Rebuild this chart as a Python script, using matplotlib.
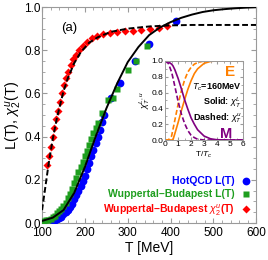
import numpy as np
import matplotlib
matplotlib.use("Agg")
import matplotlib.pyplot as plt

plt.rcParams['font.family'] = ['Liberation Sans', 'DejaVu Sans']
plt.rcParams['mathtext.fontset'] = 'custom'
plt.rcParams['mathtext.rm'] = 'Liberation Sans'
plt.rcParams['mathtext.it'] = 'Liberation Sans:italic'
plt.rcParams['mathtext.bf'] = 'Liberation Sans:bold'

# ---- main panel data ----
# black solid: fit to L(T)
fitL_T = [100, 125, 150, 175, 200, 225, 250, 275, 300, 325, 350, 375, 400,
          425, 450, 475, 500, 525, 550, 575, 600]
fitL = [0.01, 0.025, 0.06, 0.14, 0.26, 0.40, 0.53, 0.645, 0.745, 0.815, 0.87,
        0.905, 0.93, 0.95, 0.965, 0.977, 0.985, 0.99, 0.994, 0.997, 0.999]

# black dashed: fit to chi2
fitX_T = [100, 105, 110, 115, 120, 125, 130, 135, 140, 150, 160, 175, 190,
          210, 230, 260, 300, 350, 400, 450, 500, 600]
fitX = [0.06, 0.13, 0.20, 0.27, 0.33, 0.39, 0.44, 0.49, 0.53, 0.61, 0.67,
        0.74, 0.79, 0.835, 0.86, 0.885, 0.90, 0.91, 0.915, 0.917, 0.917, 0.917]

# HotQCD L(T)
hot_T = [125, 130, 135, 140, 145, 150, 155, 160, 165, 170, 175, 180, 185, 190,
         195, 200, 205, 210, 215, 220, 225, 230, 235, 240, 245, 260, 282, 317,
         350, 413]
hot_L = [0.01, 0.015, 0.02, 0.025, 0.03, 0.04, 0.05, 0.06, 0.075, 0.09, 0.11,
         0.13, 0.15, 0.17, 0.195, 0.22, 0.25, 0.28, 0.31, 0.34, 0.37, 0.40,
         0.43, 0.47, 0.50, 0.58, 0.65, 0.75, 0.83, 0.935]

# Wuppertal-Budapest L(T)
wbL_T = [105, 110, 115, 120, 125, 130, 135, 140, 145, 150, 155, 160, 165, 170,
         175, 180, 185, 190, 195, 200, 205, 210, 215, 220, 225, 230, 240, 254,
         266, 275, 301, 320, 345]
wbL = [0.01, 0.012, 0.015, 0.02, 0.03, 0.035, 0.045, 0.055, 0.065, 0.08, 0.095,
       0.115, 0.135, 0.16, 0.185, 0.21, 0.235, 0.26, 0.285, 0.31, 0.335, 0.36,
       0.39, 0.415, 0.44, 0.465, 0.51, 0.57, 0.58, 0.62, 0.71, 0.75, 0.82]

# Wuppertal-Budapest chi2^u(T)
wbX_T = [112, 117, 121, 125, 129, 133, 137, 141, 146, 151, 156, 161, 167, 173,
         180, 187, 195, 205, 216, 228, 242, 258, 275, 293, 312, 332, 352, 372,
         392]
wbX = [0.27, 0.31, 0.35, 0.40, 0.44, 0.48, 0.52, 0.56, 0.60, 0.64, 0.67, 0.70,
       0.73, 0.76, 0.78, 0.80, 0.82, 0.84, 0.855, 0.865, 0.875, 0.88, 0.885,
       0.89, 0.89, 0.895, 0.90, 0.905, 0.91]

# ---- inset data ----
ins_x = [0, 0.25, 0.5, 0.6, 0.75, 1.0, 1.25, 1.5, 1.75, 2.0, 2.25, 2.5, 3.0,
         3.5, 4.0, 5.0, 6.0]
E_solid = [0, 0, 0, 0, 0.08, 0.22, 0.37, 0.51, 0.64, 0.75, 0.84, 0.90, 0.97,
           0.995, 1, 1, 1]
E_dashed = [0, 0, 0.05, 0.13, 0.25, 0.45, 0.62, 0.76, 0.86, 0.92, 0.96, 0.98,
            1, 1, 1, 1, 1]
M_solid = [1, 0.99, 0.96, 0.94, 0.89, 0.78, 0.65, 0.51, 0.39, 0.28, 0.20,
           0.13, 0.05, 0.015, 0.003, 0, 0]
M_dashed = [1, 0.97, 0.86, 0.79, 0.68, 0.49, 0.33, 0.21, 0.12, 0.06, 0.03,
            0.01, 0, 0, 0, 0, 0]

blue = '#0000ff'
green = '#1e9e1e'
red = '#ff0000'
orange = '#ff8000'
purple = '#800080'
grey = '#9a9a9a'

fig = plt.figure(figsize=(2.68, 2.60), dpi=100)
ax = fig.add_axes([0.157, 0.142, 0.799, 0.831])

ax.plot(hot_T, hot_L, 'o', color=blue, ms=5.6, mec='none', label='HotQCD L(T)', zorder=3)
ax.plot(wbL_T, wbL, 's', color=green, ms=4.6, mec='none',
        label='Wuppertal\u2013Budapest L(T)', zorder=3)
ax.plot(wbX_T, wbX, 'D', color=red, ms=4.2, mec='none',
        label='Wuppertal\u2013Budapest $\\chi_2^u$(T)', zorder=3)
ax.plot(fitL_T, fitL, '-', color='black', lw=1.4, zorder=4)
ax.plot(fitX_T, fitX, '--', color='black', lw=1.4, dashes=(3, 1.5), zorder=4)

ax.set_xlim(100, 600)
ax.set_ylim(0, 1.0)
ax.set_xticks([100, 200, 300, 400, 500, 600])
ax.set_yticks([0.0, 0.2, 0.4, 0.6, 0.8, 1.0])
ax.set_yticklabels(['0.0', '0.2', '0.4', '0.6', '0.8', '1.0'])
ax.set_xticks(np.arange(100, 601, 20), minor=True)
ax.set_yticks(np.arange(0, 1.001, 0.05), minor=True)
ax.tick_params(which='both', direction='in', top=True, right=True, color=grey,
               labelsize=8.5, pad=1)
ax.tick_params(axis='x', pad=3)
ax.tick_params(which='major', length=3.5)
ax.tick_params(which='minor', length=2)
for s in ax.spines.values():
    s.set_color(grey)
    s.set_linewidth(0.8)
ax.set_xlabel('T [MeV]', fontsize=10, labelpad=1)
ax.set_ylabel('L(T), $\\chi_2^u$(T)', fontsize=10.5, labelpad=0)
ax.text(0.09, 0.89, '(a)', transform=ax.transAxes, fontsize=9.5)

leg = ax.legend(loc='lower right', frameon=False, markerfirst=False,
                prop={'size': 7.5, 'weight': 'bold'}, handlelength=1.0,
                handletextpad=0.6, labelspacing=0.3, borderaxespad=0.1)
for t, c in zip(leg.get_texts(), [blue, green, red]):
    t.set_color(c)

# ---- inset ----
ins = fig.add_axes([0.616, 0.4615, 0.291, 0.304])
ins.plot(ins_x, E_solid, '-', color=orange, lw=1.2)
ins.plot(ins_x, E_dashed, '--', color=orange, lw=1.2, dashes=(3, 1.5))
ins.plot(ins_x, M_solid, '-', color=purple, lw=1.2)
ins.plot(ins_x, M_dashed, '--', color=purple, lw=1.2, dashes=(3, 1.5))
ins.set_xlim(0, 6)
ins.set_ylim(0, 1)
ins.set_xticks([0, 1, 2, 3, 4, 5, 6])
ins.set_yticks([0.0, 0.2, 0.4, 0.6, 0.8, 1.0])
ins.set_yticklabels(['0.0', '0.2', '0.4', '0.6', '0.8', '1.0'])
ins.set_xticks(np.arange(0, 6.01, 0.5), minor=True)
ins.set_yticks(np.arange(0, 1.001, 0.1), minor=True)
ins.tick_params(which='both', direction='in', top=True, right=True, color=grey,
                labelsize=6, pad=1)
ins.tick_params(which='major', length=2.5)
ins.tick_params(which='minor', length=1.3)
for s in ins.spines.values():
    s.set_color(grey)
    s.set_linewidth(0.7)
ins.set_xlabel('T/$T_c$', fontsize=6, labelpad=1)
ins.set_ylabel('$\\chi_T^{L,u}$', fontsize=6.5, labelpad=0)
ins.text(5.0, 0.86, 'E', color=orange, fontsize=11, fontweight='bold',
         ha='center', va='center')
ins.text(4.7, 0.075, 'M', color=purple, fontsize=10.5, fontweight='bold',
         ha='center', va='center')
ins.text(5.9, 0.67, '$\\mathbf{\\it{T}_c}$=160MeV', fontsize=6.5, fontweight='bold',
         ha='right', va='center')
ins.text(5.9, 0.47, 'Solid: $\\chi_T^L$', fontsize=6.5, fontweight='bold',
         ha='right', va='center')
ins.text(5.9, 0.28, 'Dashed: $\\chi_T^u$', fontsize=6.5, fontweight='bold',
         ha='right', va='center')

fig.savefig('out.png', dpi=100)
